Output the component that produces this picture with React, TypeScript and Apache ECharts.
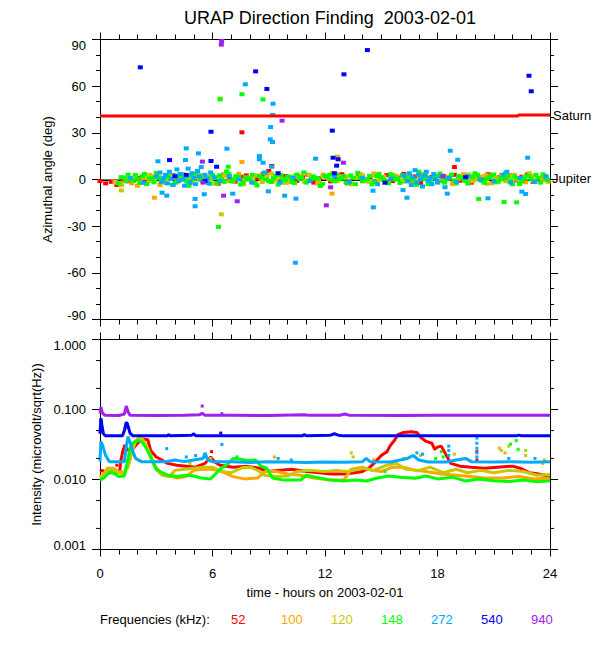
import React, { useEffect, useRef } from "react";
import * as echarts from "echarts";

const FREQS = ["52", "100", "120", "148", "272", "540", "940"];
const COLORS = ["#ff0000", "#ffa500", "#c8c800", "#00ff00", "#00aaff", "#0000ff", "#a020f0"];
const X_TICKS = [0, 6, 12, 18, 24];

// ---- top panel: azimuthal angle (deg), sampled clusters (start hour, step hours, values)
const ang52 = [-1.0, -2.5, -1.5, -3.5, 0.0, -1.2, -0.5, 1.0, -2.0, 0.5,
  2.0, -1.5, 0.8, 2.8, -0.6, 1.5, -2.2, 0.2, 2.4, -1.0,
  1.2, -2.8, 3.2, 0.4, -1.4, 1.8, 2.6, -0.8, 0.6, 3.6,
  5.5, 1.0, -1.8, 2.2, 0.0, -0.8, 1.4, 3.0, -2.0, 0.8,
  2.0, -1.2, 0.4, 3.4, -2.4, 1.0, 2.6, -0.6, 1.6, -1.6,
  0.2, 2.8, -1.0, 1.2, 3.6, -0.4, 2.0, -2.2, 0.8, 1.6,
  -1.4, 2.4, 0.2, 3.0, -0.8, 1.0, -2.0, 2.2, 0.6, 3.4,
  -1.2, 1.4, 0.0, 2.6, -0.6, 1.8, 3.2, -1.6, 0.4, 2.0];
const ang100 = [-1.5, -3.0, 0.5, -2.5, -4.0, 1.0, -1.0, 2.0, -3.5, 0.0,
  2.5, -1.8, 1.2, -2.2, 3.0, 0.4, -1.0, 1.8, -2.8, 0.8,
  2.2, -1.4, 3.6, -0.2, 1.2, -2.4, 0.6, 2.8, -1.2, 4.0,
  0.2, -1.8, 1.6, 2.4, -0.6, 1.0, -2.6, 3.2, 0.4, -1.0,
  2.0, 1.2, -3.0, 0.8, 2.6, -1.4, 3.8, 0.0, -2.2, 1.4,
  2.2, -0.8, 1.0, -2.0, 3.0, 0.6, -1.6, 2.4, -0.4, 1.8,
  -2.8, 0.2, 3.4, -1.2, 1.6, -0.2, 2.8, -2.4, 0.8, 1.4,
  -1.0, 3.0, 0.4, -1.8, 2.2, 1.0, -0.6];
const ang120 = [-2.0, -3.5, -1.0, 0.8, 2.5, -1.5, 1.0, 3.0, -0.5, 1.8,
  -2.2, 0.5, 2.2, -1.2, 3.5, 0.0, -1.8, 1.5, 2.8, -0.8,
  0.3, -2.5, 1.2, 3.2, -1.0, 0.6, 2.0, -3.0, 1.4, 0.2,
  2.6, -1.6, 0.9, 3.8, -0.4, 1.6, -2.2, 0.4, 2.4, 1.0,
  -1.4, 3.0, 0.6, -0.8, 2.2, 1.4, 4.2, -1.2, 0.8, 2.0,
  -2.6, 1.2, 3.4, 0.2, -1.0, 2.6, 0.0, 1.8, -2.0, 3.0,
  0.6, -1.4, 2.2, 1.0, -0.6, 3.6, 0.4, -2.4, 1.6, 2.8,
  -0.2, 1.2, -1.8, 2.4, 0.8, 3.2, -1.0, 0.2, 2.0, -2.8,
  1.4, 0.6, 3.0, -1.2, 2.2, 0.0, -2.0, 1.6, 4.0, -0.8,
  1.0, 2.6, -1.5];
const ang148a = [-2.5, 1.2, 3.1, -0.8, 0.4, 2.2, -3.0, 1.0, 4.2, -1.4,
  2.0, 0.3, -2.1, 3.3, 1.1, -4.0, 0.2, 2.4, -1.2, 1.3,
  3.0, -2.2, 0.1, 5.2, -1.0, 2.1, -3.2, 1.4, 0.0, -2.3,
  2.2, 4.1, -1.1, 1.0, -3.3, 0.5, 2.0, -1.5, 3.2, 1.2,
  -2.0, 0.3, 1.1, -4.2, 2.3, 3.1, -1.0, 0.2, 2.1, -2.4,
  1.0, 4.3, -1.2, 0.1, -3.1, 2.2, 1.3, -1.0, 3.4, 0.0,
  -2.2, 1.1, 2.4, -1.3, 5.0, 0.2, -3.0, 1.0, 2.2, -1.1,
  0.3, 3.1, -2.5, 1.2, -1.0, 2.0, 4.0, 0.1, -2.1, 1.3,
  3.2, -1.4, 0.2, 2.1, -3.1, 1.0, -1.2, 2.3, 0.4, 3.0,
  -2.0, 1.1];
const ang148b = [1.5, -1.0, 0.2, 2.8, -2.2, 3.5, 0.5, -1.8, 1.2, -0.5,
  2.5, -3.5, 1.8, 0.0, -1.2, 2.0, 3.8, -0.3, 1.0, -2.6,
  0.8, 2.6, -1.5, 3.6, -0.2, 1.5, -2.0, 0.6, 2.9, -3.8,
  1.2, 0.0, -1.6, 2.4, 3.0, -0.6, 1.7, -2.2, 0.4, 4.5,
  -1.0, 2.0, 0.6, -2.8, 1.4, -0.4, 3.3, 0.8, -1.9, 2.6,
  -3.0, 1.0, 0.2, 2.2, -1.4, 3.6, 0.0, -2.4, 1.8, 0.6,
  2.8, -1.2, 0.4, -3.4, 1.6, 2.4, -0.8, 0.9, 3.8, -2.0,
  1.2, -0.6, 2.0, 0.5, -2.6, 1.5, 3.0, -1.0, 0.3, 2.6,
  -1.8, 0.7, 4.0, -0.5, 1.9, -2.9, 0.8, 2.2, -1.3, 1.0,
  3.3, -0.4];

// [hour, deg] points
const pts272 = [[1.6, 1.0], [2.3, -2.0], [3.0, 2.0], [3.2, 4.5], [3.3, -1.5], [3.4, 1.0], [3.5, 3.0], [3.6, -2.5], [3.7, 5.0], [3.8, 0.5],
  [3.9, -3.5], [4.0, 2.5], [4.1, 6.5], [4.2, -1.0], [4.3, 3.5], [4.4, 0.0], [4.5, -4.0], [4.6, 2.0], [4.7, 7.0], [4.8, -2.0],
  [4.9, 4.0], [5.0, 1.0], [5.1, -3.0], [5.2, 5.5], [5.3, 2.0], [5.4, 8.0], [5.5, -1.5], [5.6, 3.0], [5.7, 0.5], [5.8, -2.5],
  [5.9, 4.5], [6.1, 1.5], [6.4, -1.0], [6.9, 2.0], [7.4, 0.0], [8.1, -2.0], [8.8, 4.5], [9.6, -2.0], [10.3, 1.0], [11.2, -1.0],
  [12.5, 2.0], [13.3, -1.5], [14.0, 1.0], [14.8, -3.0], [15.5, 0.5], [16.2, 2.5], [16.4, -1.0], [16.5, 4.0], [16.6, -3.5], [16.7, 1.5],
  [16.8, 6.0], [16.9, -2.0], [17.0, 3.0], [17.1, 0.0], [17.2, -4.5], [17.3, 2.5], [17.4, 5.0], [17.5, -1.0], [17.6, 1.0], [17.7, -3.0],
  [17.8, 3.5], [17.9, 0.5], [18.0, -2.0], [18.2, 2.0], [18.4, -5.0], [18.6, 1.0], [19.0, -1.5], [19.6, 2.0], [20.3, 0.0], [21.0, -1.0],
  [21.5, 3.0], [21.7, 5.0], [21.9, -2.0], [22.4, 1.0], [23.2, -1.5], [23.8, 2.0]];
const out52 = [[7.57, 30.3], [9.16, 8.7], [18.9, 8.0]];
const out100 = [[7.57, 11.2], [2.9, -11.7], [12.67, 14.7], [12.37, -9.1]];
const out120 = [[6.42, 52.0], [6.47, -22.4], [1.14, -7.0]];
const out148 = [[7.57, 54.8], [8.69, 51.5], [6.84, 8.2], [6.32, -30.5], [21.55, -14.5], [22.22, -14.7], [20.2, -12.5], [6.4, 51.5]];
const out272 = [[7.75, 61.2], [9.23, 48.7], [9.21, 41.5], [9.1, 33.7], [9.08, 25.8], [9.2, 24.1], [4.6, 20.0], [6.77, 19.8], [5.25, 16.8],
  [3.09, 11.7], [8.5, 15.1], [8.5, 13.0], [8.7, 10.8], [11.5, 13.4], [4.56, 12.5], [9.16, 8.2], [7.08, -9.1], [9.85, -10.4],
  [10.45, -12.3], [5.07, -12.5], [5.07, -17.2], [5.56, -9.5], [3.56, -10.4], [3.31, -8.5], [8.98, -7.6], [10.42, -53.5],
  [18.68, 18.5], [22.81, 14.0], [19.08, 12.7], [14.58, -17.9], [16.37, -11.7], [18.52, -9.1], [20.69, -12.1], [14.56, -7.2],
  [16.16, -6.8], [22.5, -7.8], [22.7, -9.3]];
const pts540 = [[2.15, 72.1], [8.3, 69.5], [8.9, 58.2], [5.92, 30.7], [3.71, 12.5], [5.92, 11.9], [6.22, 8.2], [14.26, 83.2],
  [13.01, 67.6], [22.88, 66.7], [23.0, 56.7], [12.39, 31.4], [12.43, 14.0], [12.7, 13.0], [12.62, 8.9], [4.6, 3.0], [5.6, -1.0],
  [9.5, 4.0], [15.2, -2.0], [19.5, 1.5], [12.5, 4.0], [4.0, 2.0]];
const pts940 = [[6.49, 89.0], [6.47, 86.7], [9.71, 37.8], [5.46, 11.5], [6.59, -10.4], [7.32, -14.0], [12.07, -16.6],
  [12.98, 10.8], [5.5, -2.0], [12.3, -5.0], [18.3, 2.0]];
const saturn = [[0, 40.8], [22.3, 40.8], [22.3, 41.4], [24, 41.4]];
const jupiter = [[0, -0.5], [24, -0.5]];

// ---- bottom panel: intensity, [hour, value]
const int52 = [[0, 0.013], [0.1, 0.0135], [0.4, 0.0125], [0.8, 0.0125], [1.05, 0.013], [1.1, 0.018], [1.25, 0.028], [1.4, 0.028],
  [1.6, 0.025], [1.8, 0.028], [2.0, 0.033], [2.3, 0.038], [2.55, 0.037], [2.7, 0.026], [3.0, 0.021], [3.3, 0.019], [3.6, 0.017],
  [4.1, 0.016], [4.6, 0.0155], [5.1, 0.015], [5.6, 0.017], [5.9, 0.021], [6.1, 0.018], [6.4, 0.016], [7.1, 0.015], [7.8, 0.0155],
  [8.5, 0.0145], [8.9, 0.013], [9.5, 0.0135], [10.2, 0.014], [11.0, 0.013], [11.7, 0.0125], [12.3, 0.012], [13.0, 0.012],
  [13.6, 0.0125], [14.0, 0.013], [14.4, 0.015], [14.7, 0.018], [15.0, 0.022], [15.3, 0.025], [15.5, 0.031], [15.7, 0.036],
  [15.9, 0.044], [16.2, 0.047], [16.6, 0.048], [16.9, 0.047], [17.1, 0.04], [17.4, 0.035], [17.7, 0.033], [17.85, 0.027],
  [18.0, 0.029], [18.2, 0.03], [18.4, 0.024], [18.7, 0.017], [19.2, 0.0155], [19.8, 0.015], [20.5, 0.0145], [21.2, 0.015],
  [22.0, 0.0155], [22.4, 0.0145], [22.9, 0.0125], [23.4, 0.012], [24, 0.011]];
const int100 = [[0, 0.0105], [0.1, 0.011], [0.4, 0.0145], [0.7, 0.0145], [1.0, 0.013], [1.3, 0.0128], [1.5, 0.016], [1.7, 0.026],
  [1.9, 0.035], [2.1, 0.039], [2.3, 0.036], [2.5, 0.028], [2.7, 0.021], [2.9, 0.016], [3.2, 0.013], [3.6, 0.0115], [4.1, 0.0105],
  [4.6, 0.011], [5.0, 0.0135], [5.5, 0.014], [6.0, 0.014], [6.5, 0.013], [7.1, 0.011], [7.7, 0.0102], [8.4, 0.0105], [8.8, 0.013],
  [9.4, 0.013], [10.0, 0.012], [10.7, 0.0115], [11.4, 0.0105], [12.3, 0.0098], [13.0, 0.0098], [13.4, 0.014], [14.0, 0.015],
  [14.5, 0.0135], [15.0, 0.013], [15.6, 0.015], [16.2, 0.015], [16.8, 0.0135], [17.4, 0.013], [18.2, 0.012], [19.0, 0.0115],
  [19.8, 0.011], [20.5, 0.0105], [21.5, 0.0105], [22.3, 0.011], [23.2, 0.0102], [24, 0.0105]];
const int120 = [[0, 0.011], [0.2, 0.012], [0.5, 0.014], [0.9, 0.013], [1.2, 0.012], [1.5, 0.015], [1.7, 0.024], [1.9, 0.036],
  [2.1, 0.04], [2.3, 0.037], [2.6, 0.026], [2.8, 0.019], [3.0, 0.014], [3.3, 0.0115], [3.7, 0.011], [4.0, 0.0135], [4.5, 0.014],
  [5.0, 0.0145], [5.5, 0.015], [6.0, 0.015], [6.5, 0.013], [7.0, 0.0125], [7.6, 0.0148], [8.0, 0.015], [8.4, 0.0135],
  [8.8, 0.0115], [9.4, 0.011], [10.0, 0.0112], [10.5, 0.013], [11.2, 0.0135], [12.0, 0.013], [12.6, 0.0135], [13.2, 0.013],
  [14.0, 0.0145], [14.6, 0.0135], [15.3, 0.016], [15.8, 0.017], [16.3, 0.014], [17.0, 0.0135], [17.6, 0.015], [18.3, 0.0125],
  [19.0, 0.014], [19.6, 0.0125], [20.3, 0.0135], [21.0, 0.0125], [21.8, 0.0135], [22.6, 0.013], [23.3, 0.0115], [24, 0.0118]];
const int148 = [[0, 0.0098], [0.2, 0.0105], [0.55, 0.013], [0.8, 0.012], [1.0, 0.011], [1.3, 0.0112], [1.5, 0.02], [1.6, 0.028],
  [1.8, 0.034], [2.0, 0.036], [2.2, 0.035], [2.4, 0.03], [2.6, 0.024], [2.8, 0.018], [3.0, 0.014], [3.3, 0.0125], [3.6, 0.0115],
  [4.1, 0.011], [4.6, 0.0115], [5.0, 0.0112], [5.4, 0.0105], [5.9, 0.0102], [6.4, 0.014], [6.8, 0.0165], [7.1, 0.02],
  [7.5, 0.0195], [7.9, 0.0185], [8.3, 0.019], [8.6, 0.0155], [8.9, 0.0145], [9.2, 0.0105], [9.8, 0.0098], [10.7, 0.0098],
  [11.0, 0.0115], [11.5, 0.0108], [12.3, 0.0098], [13.0, 0.0095], [13.6, 0.0098], [14.2, 0.0095], [14.8, 0.0105],
  [15.4, 0.0112], [16.0, 0.0108], [16.8, 0.0104], [17.4, 0.0112], [18.0, 0.0102], [18.8, 0.0108], [19.5, 0.0095],
  [20.2, 0.0102], [21.0, 0.0096], [21.8, 0.0094], [22.6, 0.0098], [23.3, 0.0093], [24, 0.0096]];
const int272 = [[0, 0.018], [0.05, 0.035], [0.15, 0.03], [0.3, 0.022], [0.5, 0.018], [1.3, 0.018], [1.4, 0.03], [1.5, 0.041],
  [1.6, 0.034], [1.75, 0.025], [1.9, 0.02], [2.2, 0.018], [3.5, 0.018], [4.0, 0.019], [4.5, 0.018], [5.0, 0.019], [5.5, 0.02],
  [5.6, 0.024], [5.75, 0.019], [6.0, 0.018], [7.0, 0.018], [8.0, 0.0175], [9.0, 0.018], [10, 0.0178], [11, 0.0175], [12, 0.0178],
  [13, 0.0176], [14, 0.018], [14.2, 0.02], [14.4, 0.018], [15.5, 0.0178], [16.4, 0.02], [16.7, 0.022], [17.0, 0.019],
  [17.5, 0.0178], [18.5, 0.0178], [19.0, 0.019], [19.5, 0.02], [19.8, 0.018], [21, 0.0178], [22, 0.018], [23, 0.0176], [24, 0.018]];
const int540 = [[0, 0.045], [0.05, 0.075], [0.1, 0.06], [0.18, 0.045], [0.3, 0.042], [1.2, 0.042], [1.3, 0.05], [1.4, 0.066],
  [1.5, 0.058], [1.6, 0.046], [1.75, 0.042], [3.6, 0.042], [3.65, 0.044], [3.75, 0.042], [4.9, 0.043], [5.0, 0.045], [5.1, 0.042],
  [10.8, 0.042], [10.9, 0.044], [11.0, 0.042], [12.3, 0.043], [12.5, 0.045], [12.7, 0.043], [13.0, 0.042], [22.2, 0.042],
  [22.35, 0.043], [22.5, 0.042], [24, 0.042]];
const int940 = [[0, 0.088], [0.05, 0.108], [0.12, 0.09], [0.25, 0.083], [1.0, 0.082], [1.3, 0.086], [1.4, 0.112], [1.5, 0.092],
  [1.6, 0.083], [3.0, 0.082], [4.5, 0.083], [5.3, 0.084], [5.45, 0.088], [5.6, 0.083], [7.0, 0.083], [9.0, 0.082], [10.9, 0.084],
  [11.1, 0.083], [12.8, 0.083], [13.05, 0.086], [13.3, 0.083], [16, 0.082], [18, 0.083], [20, 0.083], [22, 0.083], [24, 0.083]];
const dot52 = [[5.95, 0.025], [20.1, 0.025], [20.1, 0.019], [1.3, 0.03], [0.9, 0.016]];
const dot100 = [[9.3, 0.021], [21.3, 0.028], [21.6, 0.024], [23.7, 0.019], [14.6, 0.019], [16.2, 0.02]];
const dot120 = [[13.4, 0.024], [13.5, 0.021], [17.1, 0.022], [18.9, 0.023], [21.4, 0.026], [21.8, 0.03], [22.7, 0.026],
  [22.7, 0.022], [23.6, 0.017], [5.9, 0.02], [4.8, 0.017]];
const dot148 = [[18.2, 0.025], [18.3, 0.021], [21.9, 0.032], [22.2, 0.036], [22.3, 0.027], [17.9, 0.02], [7.3, 0.021], [15.2, 0.013]];
const dot272 = [[3.56, 0.0276], [6.5, 0.0316], [18.6, 0.03], [18.6, 0.026], [18.6, 0.022], [20.1, 0.039], [20.1, 0.033],
  [20.1, 0.028], [20.1, 0.024], [20.1, 0.021], [4.6, 0.021], [5.1, 0.022], [9.5, 0.02], [10.2, 0.019], [16.9, 0.024],
  [17.2, 0.023], [21.8, 0.02], [23.2, 0.02]];
const dot540 = [[6.44, 0.046], [0.05, 0.07], [0.08, 0.065], [1.45, 0.062], [1.5, 0.055]];
const dot940 = [[5.45, 0.112], [6.5, 0.087]];
const LOG_MINOR = [0.5, 0.2, 0.05, 0.02, 0.005, 0.002];

const FONT = "'Liberation Sans', Arial, Helvetica, sans-serif";

function sampled(start: number, step: number, vals: number[]) {
  return vals.map((v, i) => [start + i * step, v]);
}

export default function App() {
  const ref = useRef<HTMLDivElement>(null);
  useEffect(() => {
    document.body.style.margin = "0";
    const chart = echarts.init(ref.current!, null, { renderer: "svg" });

    const topData = [
      sampled(0, 0.3, ang52).concat(out52),
      sampled(0.8, 0.3, ang100).concat(out100),
      sampled(0.9, 0.25, ang120).concat(out120),
      sampled(1.0, 0.25, ang148a).concat(sampled(1.125, 0.25, ang148b)).concat(out148),
      pts272.concat(out272),
      pts540,
      pts940,
    ];
    const lines = [int52, int100, int120, int148, int272, int540, int940];
    const dots = [dot52, dot100, dot120, dot148, dot272, dot540, dot940];

    const axisLine = { onZero: false, lineStyle: { color: "#000", width: 1 } };
    const xAx = (grid: number, pos: string, labels: boolean) => ({
      type: "value", gridIndex: grid, position: pos, min: 0, max: 24, interval: 6,
      axisLine, splitLine: { show: false },
      axisTick: { show: true, length: 7, lineStyle: { color: "#000" } },
      minorTick: { show: true, splitNumber: 6, length: 5, lineStyle: { color: "#000" } },
      axisLabel: labels
        ? { show: true, margin: 17, color: "#000", fontSize: 13, fontFamily: FONT, formatter: (v: number) => (X_TICKS.includes(v) ? String(v) : "") }
        : { show: false },
    });
    const rich = {
      t: { padding: [12, 0, 0, 0], fontSize: 13, fontFamily: FONT, color: "#000" },
      b: { padding: [0, 0, 9, 0], fontSize: 13, fontFamily: FONT, color: "#000" },
    };

    const series: any[] = [];
    series.push({
      type: "line", xAxisIndex: 0, yAxisIndex: 0, data: jupiter, showSymbol: false, z: 1,
      lineStyle: { color: "#000", width: 1.5 },
      endLabel: { show: true, formatter: "Jupiter", color: "#000", fontSize: 13, fontFamily: FONT, distance: 2, offset: [0, -2] },
    });
    FREQS.forEach((f, i) => {
      series.push({
        type: "scatter", name: f + " top", xAxisIndex: 0, yAxisIndex: 0, data: topData[i],
        symbol: "rect", symbolSize: [5, 4], itemStyle: { color: COLORS[i], opacity: 1 }, z: 2 + i,
      });
    });
    series.push({
      type: "line", xAxisIndex: 0, yAxisIndex: 0, data: saturn, showSymbol: false, z: 10,
      lineStyle: { color: "#ff0000", width: 3 },
      endLabel: { show: true, formatter: "Saturn", color: "#000", fontSize: 13, fontFamily: FONT, distance: 3 },
    });
    FREQS.forEach((f, i) => {
      series.push({
        type: "line", name: f, xAxisIndex: 2, yAxisIndex: 2, data: lines[i], showSymbol: false, z: 2 + i,
        lineStyle: { color: COLORS[i], width: 3 },
      });
      series.push({
        type: "scatter", name: f + " dots", xAxisIndex: 2, yAxisIndex: 2, data: dots[i], z: 2 + i,
        symbol: "rect", symbolSize: [3, 3], itemStyle: { color: COLORS[i], opacity: 1 },
      });
    });
    series.push({
      type: "custom", xAxisIndex: 2, yAxisIndex: 2, clip: false, silent: true, z: 20,
      data: LOG_MINOR.map((v) => [0, v]),
      renderItem: (params: any, api: any) => {
        const p = api.coord([0, api.value(1)]);
        const q = api.coord([24, api.value(1)]);
        return {
          type: "group",
          children: [
            { type: "line", shape: { x1: p[0] - 4, y1: p[1], x2: p[0], y2: p[1] }, style: { stroke: "#000", lineWidth: 1 } },
            { type: "line", shape: { x1: q[0], y1: q[1], x2: q[0] + 4, y2: q[1] }, style: { stroke: "#000", lineWidth: 1 } },
          ],
        };
      },
    });

    const graphic: any[] = [
      { type: "text", left: 100, top: 613, style: { text: "Frequencies (kHz):", fill: "#000", fontSize: 13, fontFamily: FONT } },
    ];
    FREQS.forEach((f, i) => {
      graphic.push({ type: "text", left: 231 + 50 * i, top: 613, style: { text: f, fill: COLORS[i], fontSize: 13, fontFamily: FONT } });
    });

    chart.setOption({
      animation: false,
      backgroundColor: "#fff",
      title: {
        text: "URAP Direction Finding  2003-02-01", left: 325, top: 4, textAlign: "center",
        textStyle: { fontSize: 18, fontWeight: "normal", color: "#000", fontFamily: FONT },
      },
      grid: [
        { left: 100, top: 39.5, width: 450, height: 280 },
        { left: 100, top: 339.5, width: 450, height: 210 },
      ],
      xAxis: [
        xAx(0, "bottom", false),
        xAx(0, "top", false),
        { ...xAx(1, "bottom", true), name: "time - hours on 2003-02-01", nameLocation: "middle", nameGap: 36,
          nameTextStyle: { color: "#000", fontSize: 13, fontFamily: FONT } },
        xAx(1, "top", false),
      ],
      yAxis: [
        {
          type: "value", gridIndex: 0, position: "left", min: -90, max: 90, interval: 30,
          axisLine, splitLine: { show: false },
          axisTick: { show: true, length: 8, lineStyle: { color: "#000" } },
          minorTick: { show: true, splitNumber: 3, length: 4, lineStyle: { color: "#000" } },
          axisLabel: {
            margin: 14, color: "#000", fontSize: 13, fontFamily: FONT, rich,
            formatter: (v: number) => (v === 90 ? "{t|90}" : v === -90 ? "{b|-90}" : String(v)),
          },
          name: "Azimuthal angle (deg)", nameLocation: "middle", nameGap: 46,
          nameTextStyle: { color: "#000", fontSize: 13, fontFamily: FONT },
        },
        {
          type: "value", gridIndex: 0, position: "right", min: -90, max: 90, interval: 30,
          axisLine, splitLine: { show: false },
          axisTick: { show: true, length: 8, lineStyle: { color: "#000" } },
          minorTick: { show: true, splitNumber: 3, length: 4, lineStyle: { color: "#000" } },
          axisLabel: { show: false },
        },
        {
          type: "log", logBase: 10, gridIndex: 1, position: "left", min: 0.001, max: 1,
          axisLine, splitLine: { show: false },
          axisTick: { show: true, length: 8, lineStyle: { color: "#000" } },
          axisLabel: {
            margin: 14, color: "#000", fontSize: 13, fontFamily: FONT, rich,
            formatter: (v: number) => {
              const s = v.toFixed(3);
              return s === "1.000" ? "{t|" + s + "}" : s === "0.001" ? "{b|" + s + "}" : s;
            },
          },
          name: "Intensity (microvolt/sqrt(Hz))", nameLocation: "middle", nameGap: 46,
          nameTextStyle: { color: "#000", fontSize: 13, fontFamily: FONT },
        },
        {
          type: "log", logBase: 10, gridIndex: 1, position: "right", min: 0.001, max: 1,
          axisLine, splitLine: { show: false },
          axisTick: { show: true, length: 8, lineStyle: { color: "#000" } },
          axisLabel: { show: false },
        },
      ],
      series,
      graphic,
    });
    return () => chart.dispose();
  }, []);
  return <div ref={ref} style={{ width: 600, height: 650 }} />;
}
